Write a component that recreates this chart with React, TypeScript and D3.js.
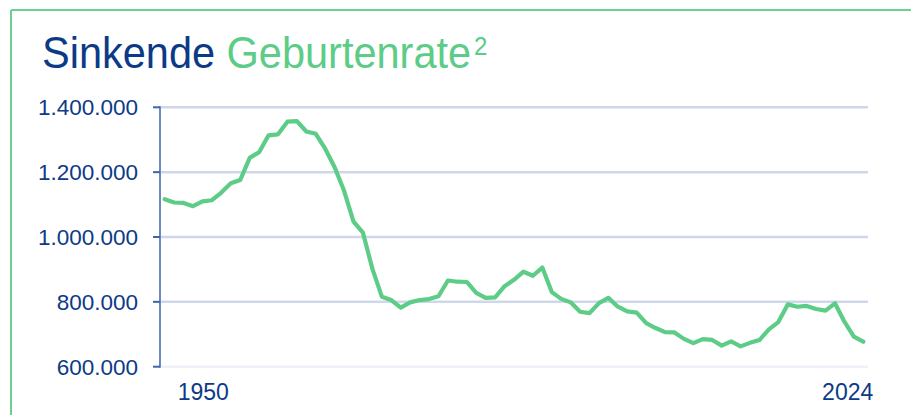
import React from "react";
import * as d3 from "d3";

const years: number[] = [
  1950, 1951, 1952, 1953, 1954, 1955, 1956, 1957, 1958, 1959,
  1960, 1961, 1962, 1963, 1964, 1965, 1966, 1967, 1968, 1969,
  1970, 1971, 1972, 1973, 1974, 1975, 1976, 1977, 1978, 1979,
  1980, 1981, 1982, 1983, 1984, 1985, 1986, 1987, 1988, 1989,
  1990, 1991, 1992, 1993, 1994, 1995, 1996, 1997, 1998, 1999,
  2000, 2001, 2002, 2003, 2004, 2005, 2006, 2007, 2008, 2009,
  2010, 2011, 2012, 2013, 2014, 2015, 2016, 2017, 2018, 2019,
  2020, 2021, 2022, 2023, 2024,
];

const births: number[] = [
  1116701, 1106380, 1105084, 1095029, 1109743, 1113408, 1137169, 1165555, 1175870, 1243922,
  1261614, 1313505, 1316534, 1355595, 1357304, 1325386, 1318303, 1272276, 1214968, 1142366,
  1047737, 1013396, 901657, 815969, 805500, 782310, 798334, 805496, 808619, 817217,
  865789, 862100, 861275, 827933, 812292, 813803, 848232, 867969, 892993, 880459,
  905675, 830019, 809114, 798447, 769603, 765221, 796013, 812173, 785034, 770744,
  766999, 734475, 719250, 706721, 705622, 685795, 672724, 684862, 682514, 665126,
  677947, 662685, 673544, 682069, 714927, 737575, 792141, 784901, 787523, 778090,
  773144, 795492, 738819, 692989, 677117,
];

const yTicks: number[] = [600000, 800000, 1000000, 1200000, 1400000];
const yTickLabels: string[] = ["600.000", "800.000", "1.000.000", "1.200.000", "1.400.000"];
const xLabels: { year: number; text: string }[] = [
  { year: 1950, text: "1950" },
  { year: 2024, text: "2024" },
];

const NAVY = "#0c3a87";
const GREEN = "#5ccc86";
const FONT = "'Liberation Sans', Arial, sans-serif";

export default function App() {
  const W = 911;
  const H = 415;
  const left = 160;
  const right = 868;
  const top = 107.3;
  const bottom = 366.7;

  const x = d3
    .scalePoint<number>()
    .domain(years)
    .range([left, right])
    .padding(0.5);
  const y = d3.scaleLinear().domain([600000, 1400000]).range([bottom, top]);

  const line = d3
    .line<number>()
    .x((_, i) => x(years[i]) as number)
    .y((d) => y(d));

  return (
    <svg
      width={W}
      height={H}
      style={{ position: "absolute", left: 0, top: 0, display: "block" }}
    >
      <rect x={0} y={0} width={W} height={H} fill="#ffffff" />
      {/* frame */}
      <line x1={11} y1={10} x2={W} y2={10} stroke="#6cd190" strokeWidth={2} />
      <line x1={11} y1={10} x2={11} y2={H} stroke="#6cd190" strokeWidth={2} />

      {/* title */}
      <text
        x={42}
        y={68}
        fontFamily={FONT}
        fontSize={41.5}
        fill={NAVY}
        transform="translate(0,68) scale(1,1.05) translate(0,-68)"
      >
        <tspan>Sinkende </tspan>
        <tspan fill={GREEN}>Geburtenrate</tspan>
        <tspan fill={GREEN} fontSize={24} dx={3} dy={-12}>2</tspan>
      </text>

      {/* gridlines */}
      {yTicks.map((t, i) => (
        <line
          key={"g" + t}
          x1={left}
          x2={right}
          y1={y(t)}
          y2={y(t)}
          stroke={i === 0 ? "#eef2f8" : "#cfd8ea"}
          strokeWidth={2.5}
        />
      ))}

      {/* y axis */}
      <line x1={left} x2={left} y1={top - 1} y2={bottom + 1} stroke="#6b8bc0" strokeWidth={2} />
      {yTicks.map((t) => (
        <line
          key={"t" + t}
          x1={153}
          x2={left}
          y1={y(t)}
          y2={y(t)}
          stroke="#3f66a8"
          strokeWidth={2}
        />
      ))}
      {yTicks.map((t, i) => (
        <text
          key={"l" + t}
          x={138}
          y={y(t)}
          dy="0.36em"
          textAnchor="end"
          fontFamily={FONT}
          fontSize={22.5}
          fill={NAVY}
        >
          {yTickLabels[i]}
        </text>
      ))}

      {/* x labels */}
      {xLabels.map((l, i) => (
        <text
          key={"x" + l.year}
          x={(x(l.year) as number) + (i === 0 ? 13 : 10)}
          y={400}
          textAnchor={i === 0 ? "start" : "end"}
          fontFamily={FONT}
          fontSize={23}
          fill={NAVY}
        >
          {l.text}
        </text>
      ))}

      {/* data line */}
      <path
        d={line(births) || ""}
        fill="none"
        stroke={GREEN}
        strokeWidth={4.2}
        strokeLinejoin="round"
        strokeLinecap="round"
      />
    </svg>
  );
}
